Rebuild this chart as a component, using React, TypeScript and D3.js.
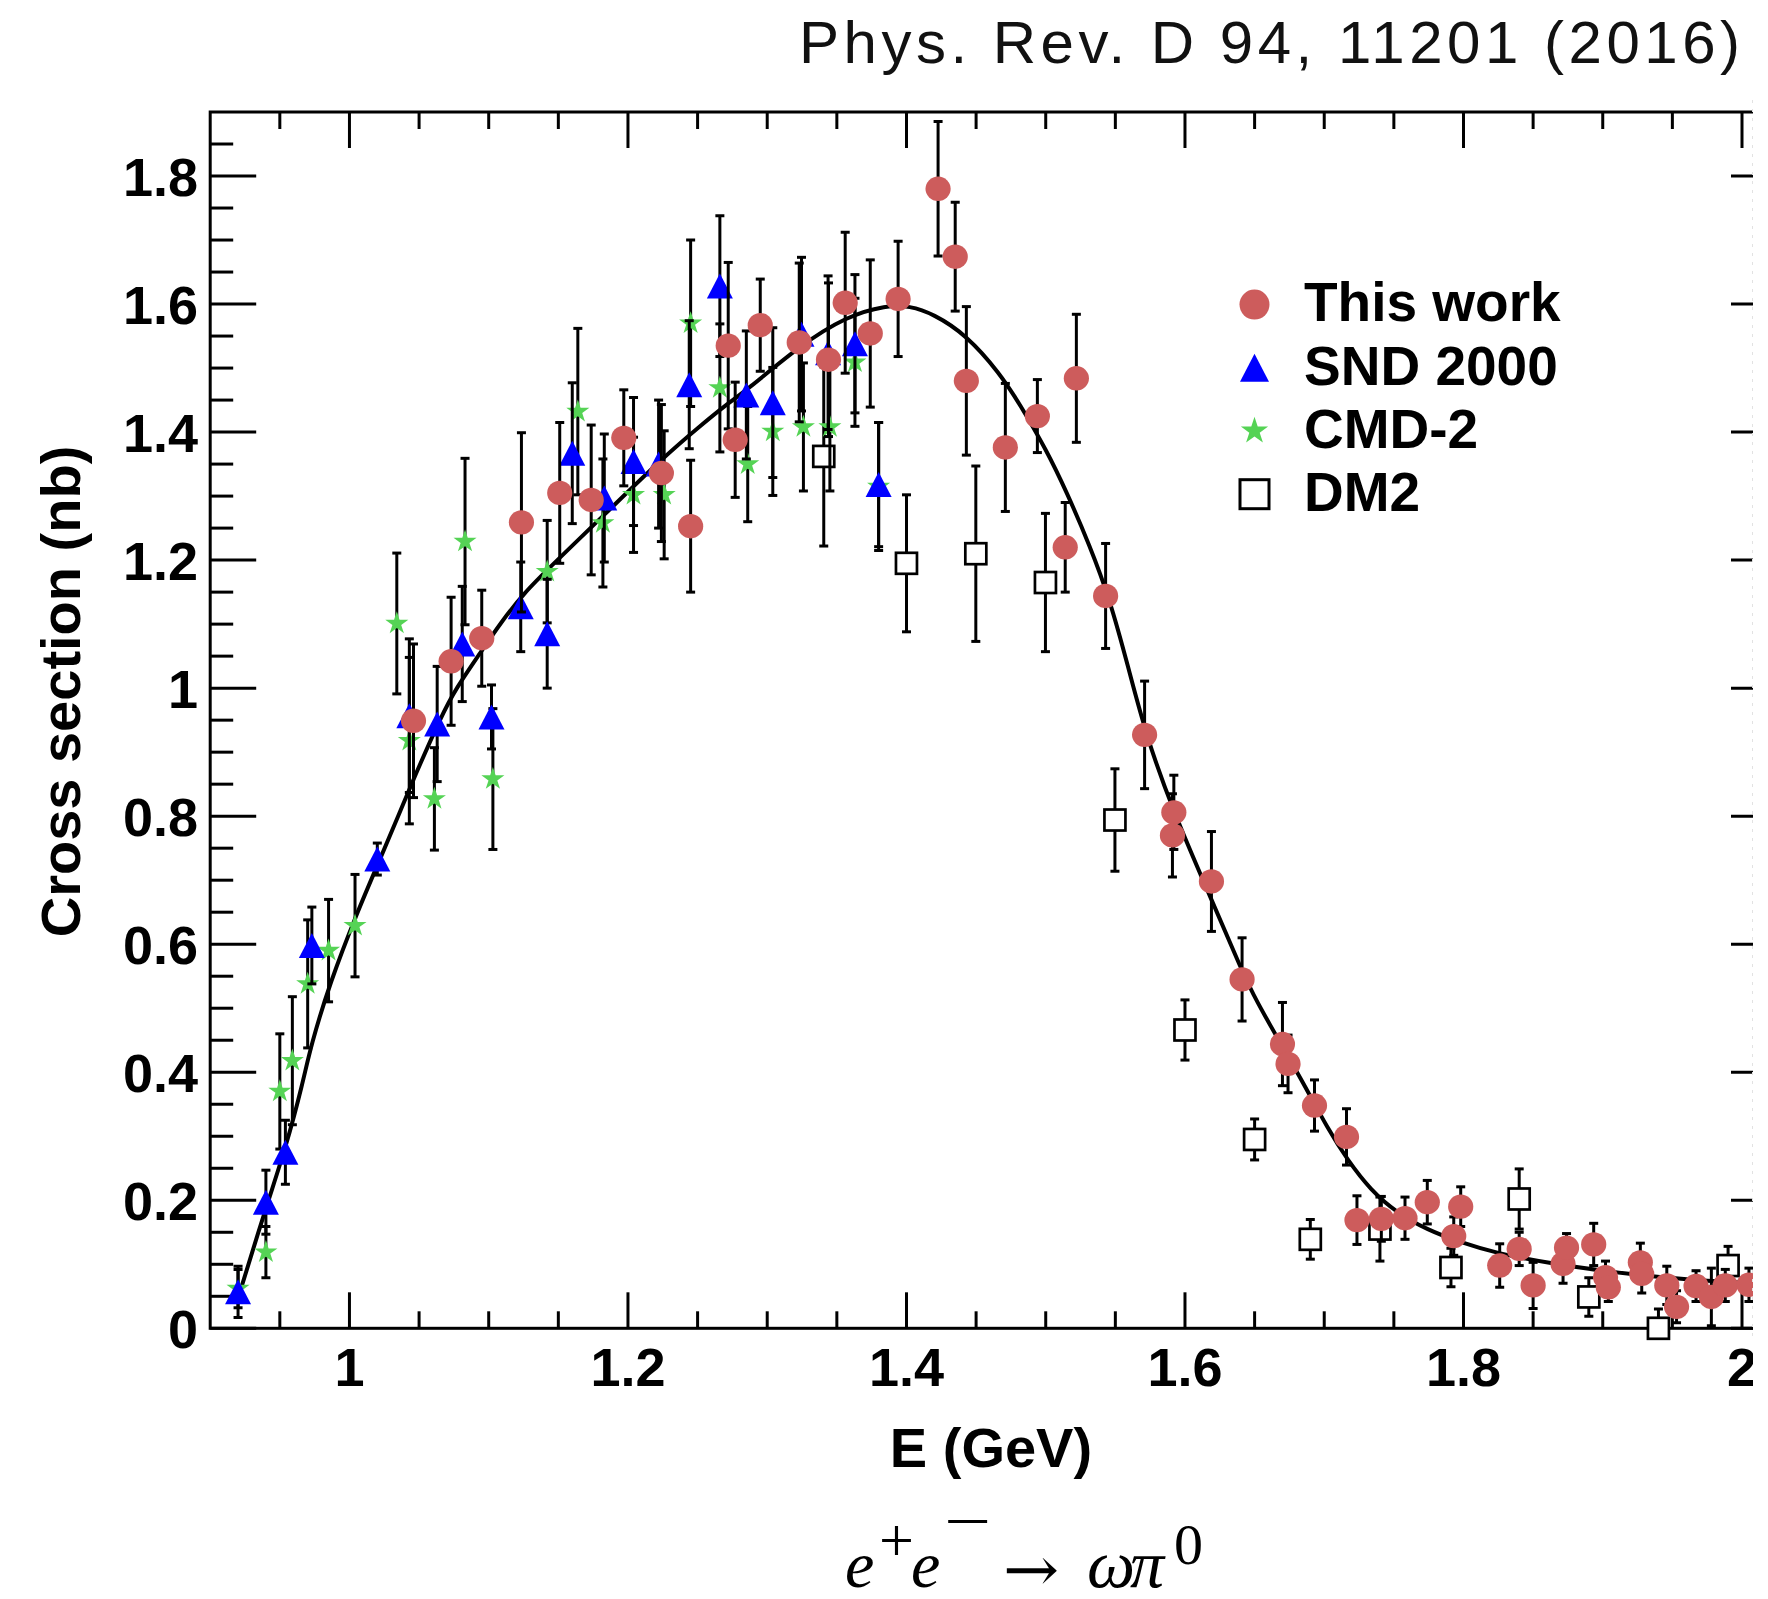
import React from "react";
import * as d3 from "d3";

// ---------------- data ----------------
// each row: [E (GeV), cross section (nb), error (nb)]
const thisWork: [number, number, number][] = [
  [1.046, 0.949, 0.12], [1.073, 1.042, 0.1], [1.095, 1.078, 0.075], [1.1235, 1.259, 0.14],
  [1.151, 1.305, 0.11], [1.1736, 1.294, 0.117], [1.197, 1.391, 0.075], [1.224, 1.336, 0.107],
  [1.245, 1.253, 0.103], [1.272, 1.535, 0.13], [1.277, 1.388, 0.09], [1.295, 1.567, 0.072],
  [1.323, 1.54, 0.124], [1.344, 1.513, 0.12], [1.356, 1.602, 0.11], [1.374, 1.554, 0.115],
  [1.394, 1.608, 0.09], [1.4227, 1.78, 0.105], [1.435, 1.674, 0.085], [1.443, 1.48, 0.116],
  [1.471, 1.376, 0.1], [1.494, 1.425, 0.057], [1.514, 1.22, 0.07], [1.522, 1.484, 0.1],
  [1.543, 1.144, 0.082], [1.571, 0.927, 0.084], [1.592, 0.806, 0.058], [1.591, 0.77, 0.065],
  [1.619, 0.698, 0.078], [1.641, 0.545, 0.065], [1.67, 0.444, 0.065], [1.674, 0.413, 0.045],
  [1.693, 0.348, 0.04], [1.716, 0.299, 0.044], [1.7235, 0.169, 0.038], [1.741, 0.171, 0.035],
  [1.758, 0.172, 0.033], [1.774, 0.197, 0.034], [1.798, 0.19, 0.031], [1.793, 0.144, 0.03],
  [1.826, 0.098, 0.034], [1.84, 0.124, 0.026], [1.85, 0.067, 0.036], [1.8715, 0.1005, 0.03],
  [1.874, 0.126, 0.022], [1.8935, 0.131, 0.033], [1.902, 0.08, 0.025], [1.904, 0.064, 0.022],
  [1.927, 0.103, 0.03], [1.928, 0.085, 0.03], [1.946, 0.067, 0.03], [1.953, 0.0335, 0.025],
  [1.967, 0.066, 0.024], [1.978, 0.049, 0.045], [1.988, 0.067, 0.025], [2.005, 0.068, 0.026],
];

const snd2000: [number, number, number][] = [
  [0.92, 0.057, 0.04], [0.94, 0.197, 0.05], [0.954, 0.275, 0.05], [0.973, 0.598, 0.06],
  [1.02, 0.733, 0.025], [1.043, 0.957, 0.12], [1.063, 0.944, 0.09], [1.081, 1.069, 0.09],
  [1.102, 0.955, 0.05], [1.123, 1.127, 0.07], [1.142, 1.085, 0.085], [1.16, 1.367, 0.11],
  [1.183, 1.297, 0.1], [1.204, 1.354, 0.1], [1.222, 1.35, 0.1], [1.244, 1.474, 0.1],
  [1.266, 1.628, 0.11], [1.285, 1.458, 0.1], [1.304, 1.446, 0.117], [1.3246, 1.553, 0.12],
  [1.3437, 1.524, 0.12], [1.363, 1.538, 0.108], [1.38, 1.318, 0.097],
];

const cmd2: [number, number, number][] = [
  [0.92, 0.062, 0.03], [0.94, 0.119, 0.04], [0.95, 0.37, 0.09], [0.959, 0.418, 0.1],
  [0.97, 0.538, 0.1], [0.985, 0.59, 0.08], [1.004, 0.629, 0.08], [1.034, 1.101, 0.11],
  [1.043, 0.918, 0.13], [1.061, 0.827, 0.08], [1.083, 1.229, 0.13], [1.103, 0.858, 0.11],
  [1.142, 1.182, 0.08], [1.164, 1.432, 0.13], [1.182, 1.258, 0.1], [1.204, 1.302, 0.09],
  [1.226, 1.302, 0.1], [1.245, 1.57, 0.13], [1.266, 1.469, 0.1], [1.286, 1.35, 0.09],
  [1.304, 1.401, 0.1], [1.326, 1.408, 0.1], [1.345, 1.408, 0.1], [1.363, 1.509, 0.1],
  [1.38, 1.315, 0.1],
];

const dm2: [number, number, number][] = [
  [1.3406, 1.362, 0.14], [1.4, 1.195, 0.107], [1.4498, 1.21, 0.137], [1.4998, 1.165, 0.108],
  [1.5497, 0.794, 0.08], [1.6, 0.466, 0.047], [1.65, 0.295, 0.032], [1.69, 0.139, 0.031],
  [1.74, 0.155, 0.05], [1.791, 0.095, 0.03], [1.84, 0.202, 0.047], [1.89, 0.049, 0.03],
  [1.94, 0.0, 0.03], [1.99, 0.098, 0.03],
];

// fitted curve, read at points along the line: [E, sigma]
const fitCurve: [number, number][] = [
  [0.919, 0.04], [0.9406, 0.193], [0.9543, 0.282], [0.9667, 0.385], [0.9721, 0.44],
  [0.986, 0.54], [1.0052, 0.648], [1.0216, 0.731], [1.0354, 0.802], [1.0464, 0.86],
  [1.0656, 0.955], [1.0766, 1.0], [1.093, 1.052], [1.1095, 1.105], [1.126, 1.15],
  [1.1425, 1.186], [1.1864, 1.278], [1.2276, 1.365], [1.2516, 1.409], [1.2688, 1.44],
  [1.2851, 1.465], [1.3234, 1.535], [1.357, 1.581], [1.3856, 1.598], [1.4024, 1.597],
  [1.419, 1.585], [1.443, 1.552], [1.467, 1.492], [1.4813, 1.444], [1.5005, 1.372],
  [1.5149, 1.307], [1.5316, 1.223], [1.546, 1.139], [1.559, 1.035], [1.5715, 0.93],
  [1.591, 0.81], [1.619, 0.67], [1.641, 0.558], [1.6508, 0.513], [1.67, 0.44],
  [1.6838, 0.388], [1.703, 0.31], [1.7167, 0.263], [1.7332, 0.216], [1.7524, 0.18],
  [1.7744, 0.1535], [1.7964, 0.1353], [1.8238, 0.117], [1.8623, 0.1015], [1.9035, 0.0884],
  [1.9447, 0.079], [1.9859, 0.0728], [2.03, 0.068],
];

const xMajorTicks = [1, 1.2, 1.4, 1.6, 1.8, 2];
const xTickLabels = ["1", "1.2", "1.4", "1.6", "1.8", "2"];
const yMajorTicks = [0, 0.2, 0.4, 0.6, 0.8, 1, 1.2, 1.4, 1.6, 1.8];
const yTickLabels = ["0", "0.2", "0.4", "0.6", "0.8", "1", "1.2", "1.4", "1.6", "1.8"];
const legendLabels = ["This work", "SND 2000", "CMD-2", "DM2"];

const titleText = "Phys. Rev. D 94, 11201 (2016)";
const xAxisTitle = "E (GeV)";
const yAxisTitle = "Cross section (nb)";

// ---------------- styles ----------------
const RED = "#cd5c5c";
const BLUE = "#0000ff";
const GREEN = "#55d355";
const SANS = "'Liberation Sans', Arial, Helvetica, sans-serif";
const SERIF = "'Liberation Serif', 'DejaVu Serif', 'Times New Roman', serif";

const W = 1768;
const H = 1599;
const CLIP_X = 1753;
const FRAME_RIGHT = 1777;

const trianglePath = (w: number, h: number) =>
  `M0,${-h / 2}L${w / 2},${h / 2}L${-w / 2},${h / 2}Z`;

export default function App() {
  const x = d3.scaleLinear().domain([0.9, 2.0]).range([210.2, 1742]);
  const y = d3.scaleLinear().domain([0, 1.9]).range([1328.3, 112]);
  const left = x(0.9);
  const top = y(1.9);
  const bottom = y(0);

  const isMajor = (v: number) => Math.abs(v * 5 - Math.round(v * 5)) < 1e-6;
  const xMinor = d3.range(19, 41).map((i) => i * 0.05).filter((v) => !isMajor(v));
  const yMinor = d3.range(1, 38).map((i) => i * 0.05).filter((v) => !isMajor(v));

  const line = d3
    .line<[number, number]>()
    .x((d) => x(d[0]))
    .y((d) => y(d[1]))
    .curve(d3.curveBasis);

  const star = (size: number) => d3.symbol().type(d3.symbolStar).size(size)() as string;

  const errorBars = (data: [number, number, number][], prefix: string) =>
    data.map(([e, s, err], i) => {
      const cx = x(e);
      const hiV = s + err;
      const loV = s - err;
      const y1 = y(Math.min(1.9, hiV));
      const y2 = y(Math.max(0, loV));
      return (
        <g key={`${prefix}-${i}`}>
          <line x1={cx} x2={cx} y1={y1} y2={y2} />
          {hiV <= 1.9 && <line x1={cx - 4.5} x2={cx + 4.5} y1={y1} y2={y1} />}
          {loV >= 0 && <line x1={cx - 4.5} x2={cx + 4.5} y1={y2} y2={y2} />}
        </g>
      );
    });

  const legendY0 = 321.4;
  const legendDy = 63.2;
  const legendMarkerX = 1254.5;

  return (
    <svg
      width={W}
      height={H}
      viewBox={`0 0 ${W} ${H}`}
      style={{ position: "absolute", left: 0, top: 0, background: "#fff" }}
    >
      <defs>
        <clipPath id="pageClip">
          <rect x={0} y={0} width={CLIP_X} height={H} />
        </clipPath>
        <clipPath id="frameClip">
          <rect x={left} y={top} width={CLIP_X - left} height={bottom - top} />
        </clipPath>
      </defs>
      <rect x={0} y={0} width={W} height={H} fill="#fff" />

      {/* title */}
      <text
        x={799}
        y={62.7}
        fontFamily={SANS}
        fontSize={60}
        fill="#111"
        textLength={941}
        lengthAdjust="spacing"
      >
        {titleText}
      </text>

      <g clipPath="url(#pageClip)">
        {/* frame */}
        <rect
          x={left}
          y={top}
          width={FRAME_RIGHT - left}
          height={bottom - top}
          fill="none"
          stroke="#000"
          strokeWidth={3}
        />
        {/* ticks */}
        <g stroke="#000" strokeWidth={3}>
          {xMajorTicks.map((v) => (
            <g key={`xM${v}`}>
              <line x1={x(v)} x2={x(v)} y1={bottom} y2={bottom - 36} />
              <line x1={x(v)} x2={x(v)} y1={top} y2={top + 36} />
            </g>
          ))}
          {xMinor.map((v) => (
            <g key={`xm${v}`}>
              <line x1={x(v)} x2={x(v)} y1={bottom} y2={bottom - 17} />
              <line x1={x(v)} x2={x(v)} y1={top} y2={top + 17} />
            </g>
          ))}
          {yMajorTicks.map((v) => (
            <g key={`yM${v}`}>
              <line x1={left} x2={left + 46} y1={y(v)} y2={y(v)} />
              <line x1={FRAME_RIGHT} x2={FRAME_RIGHT - 46} y1={y(v)} y2={y(v)} />
            </g>
          ))}
          {yMinor.map((v) => (
            <g key={`ym${v}`}>
              <line x1={left} x2={left + 23} y1={y(v)} y2={y(v)} />
              <line x1={FRAME_RIGHT} x2={FRAME_RIGHT - 23} y1={y(v)} y2={y(v)} />
            </g>
          ))}
        </g>

        {/* tick labels */}
        <g fontFamily={SANS} fontWeight="bold" fontSize={54} fill="#000">
          {yMajorTicks.map((v, i) => (
            <text key={`yl${v}`} x={198} y={y(v) + 19.5} textAnchor="end">
              {yTickLabels[i]}
            </text>
          ))}
          {xMajorTicks.map((v, i) => (
            <text key={`xl${v}`} x={x(v)} y={1386} textAnchor="middle">
              {xTickLabels[i]}
            </text>
          ))}
        </g>

        {/* fit curve */}
        <g clipPath="url(#frameClip)">
          <path d={line(fitCurve) as string} fill="none" stroke="#000" strokeWidth={4} />
        </g>

        {/* DM2 */}
        <g clipPath="url(#frameClip)" stroke="#000" strokeWidth={3}>
          {errorBars(dm2, "dm2")}
        </g>
        {dm2.map(([e, s], i) => (
          <rect
            key={`dm2m${i}`}
            x={x(e) - 10.5}
            y={y(s) - 10.5}
            width={21}
            height={21}
            fill="#fff"
            stroke="#000"
            strokeWidth={2.7}
          />
        ))}

        {/* CMD-2 */}
        <g clipPath="url(#frameClip)" stroke="#000" strokeWidth={3}>
          {errorBars(cmd2, "cmd")}
        </g>
        {cmd2.map(([e, s], i) => (
          <path
            key={`cmdm${i}`}
            d={star(165)}
            transform={`translate(${x(e)},${y(s)})`}
            fill={GREEN}
          />
        ))}

        {/* SND 2000 */}
        <g clipPath="url(#frameClip)" stroke="#000" strokeWidth={3}>
          {errorBars(snd2000, "snd")}
        </g>
        {snd2000.map(([e, s], i) => (
          <path
            key={`sndm${i}`}
            d={trianglePath(26, 25)}
            transform={`translate(${x(e)},${y(s)})`}
            fill={BLUE}
          />
        ))}

        {/* This work */}
        <g clipPath="url(#frameClip)" stroke="#000" strokeWidth={3}>
          {errorBars(thisWork, "tw")}
        </g>
        {thisWork.map(([e, s], i) => (
          <ellipse key={`twm${i}`} cx={x(e)} cy={y(s)} rx={12.6} ry={12.2} fill={RED} />
        ))}

        {/* faint scan edge */}
        <line
          x1={CLIP_X - 0.5}
          x2={CLIP_X - 0.5}
          y1={100}
          y2={1340}
          stroke="#e2e2e2"
          strokeWidth={1}
          strokeDasharray="3 6"
        />
      </g>

      {/* legend */}
      <g fontFamily={SANS} fontWeight="bold" fontSize={55} fill="#000">
        {legendLabels.map((label, i) => {
          const by = legendY0 + i * legendDy;
          const cy = by - 16.8;
          let marker: React.ReactNode = null;
          if (i === 0) marker = <circle cx={legendMarkerX} cy={cy} r={15} fill={RED} />;
          if (i === 1)
            marker = (
              <path
                d={trianglePath(29, 28)}
                transform={`translate(${legendMarkerX},${cy})`}
                fill={BLUE}
              />
            );
          if (i === 2)
            marker = (
              <path
                d={star(230)}
                transform={`translate(${legendMarkerX},${cy})`}
                fill={GREEN}
              />
            );
          if (i === 3)
            marker = (
              <rect
                x={legendMarkerX - 14.5}
                y={cy - 14.5}
                width={29}
                height={29}
                fill="#fff"
                stroke="#000"
                strokeWidth={3}
              />
            );
          return (
            <g key={label}>
              {marker}
              <text x={1304} y={by}>
                {label}
              </text>
            </g>
          );
        })}
      </g>

      {/* axis titles */}
      <text
        x={991}
        y={1467}
        textAnchor="middle"
        fontFamily={SANS}
        fontWeight="bold"
        fontSize={56}
      >
        {xAxisTitle}
      </text>
      <text
        transform="translate(80,691.5) rotate(-90)"
        textAnchor="middle"
        fontFamily={SANS}
        fontWeight="bold"
        fontSize={56}
      >
        {yAxisTitle}
      </text>

      {/* reaction caption */}
      <g fontFamily={SERIF} fill="#000">
        <text x={845} y={1587} fontSize={66} fontStyle="italic">e</text>
        <text x={879} y={1561} fontSize={62}>+</text>
        <text x={911} y={1587} fontSize={66} fontStyle="italic">e</text>
        <text transform="translate(944,1542) scale(1.35,1)" fontSize={62}>−</text>
        <text
          transform="translate(1003,1591) scale(1.08,1)"
          fontSize={62}
          fontFamily="'DejaVu Serif', serif"
        >
          →
        </text>
        <text x={1087} y={1587} fontSize={68} fontStyle="italic">ω</text>
        <text x={1130} y={1587} fontSize={68} fontStyle="italic">π</text>
        <text x={1174} y={1564} fontSize={58}>0</text>
      </g>
    </svg>
  );
}
